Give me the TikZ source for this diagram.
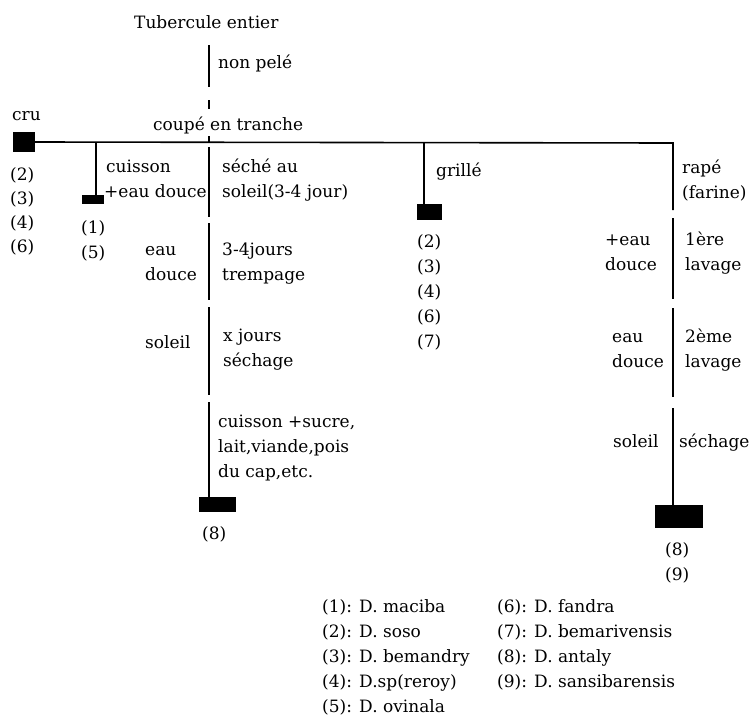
\documentclass[tikz,border=0pt]{standalone}
\usepackage{fontspec}
\setmainfont{DejaVu Serif}
% a left-aligned stack of lines whose baseline is the first line's
\newcommand\mylines[1]{\begin{tabular}[t]{@{}l@{}}#1\end{tabular}}
\begin{document}
\begin{tikzpicture}[x=1pt,y=-1pt,
  lbl/.style={anchor=base west, inner sep=0pt, font=\fontsize{17}{25}\selectfont},
  blk/.style={fill=black, draw=none, inner sep=0pt},
  ln/.style={line width=1.6pt}]
\useasboundingbox (0,0) rectangle (751,715);

% ---------- end products (black boxes) ----------
\node[blk, minimum width=22pt, minimum height=20pt] (cru)   at (24,142)   {};
\node[blk, minimum width=22pt, minimum height=9pt]  (cuis)  at (93,199.5) {};
\node[blk, minimum width=25pt, minimum height=16pt] (grill) at (429.5,212) {};
\node[blk, minimum width=37pt, minimum height=15pt] (dry)   at (217.5,504.5) {};
\node[blk, minimum width=48pt, minimum height=23pt] (flour) at (679,516.5) {};

% ---------- junction points ----------
\coordinate (top)  at (209,45);
\coordinate (t1)   at (209,87);
\coordinate (d1a)  at (209,100);
\coordinate (d1b)  at (209,109);
\coordinate (d2a)  at (209,136);
\coordinate (hub)  at (209,143);
\coordinate (cjn)  at (96,143);
\coordinate (gjn)  at (424,143);
\coordinate (corner) at (673,143);
% main column segments
\coordinate (m1a) at (209,147); \coordinate (m1b) at (209,217);
\coordinate (m2a) at (209,223); \coordinate (m2b) at (209,300);
\coordinate (m3a) at (209,307); \coordinate (m3b) at (209,395);
\coordinate (m4a) at (209,402);
% right column segments
\coordinate (r1b) at (673,210);
\coordinate (r2a) at (673,218); \coordinate (r2b) at (673,299);
\coordinate (r3a) at (673,308); \coordinate (r3b) at (673,397);
\coordinate (r4a) at (673,408);

% ---------- connectors ----------
\draw[ln] (top) -- (t1);
\draw[ln] (d1a) -- (d1b);
\draw[ln] (d2a) -- (hub);
\draw[ln] (cru.east) -- (corner) -- (r1b);
\draw[ln] (cjn) -- (cuis.north -| cjn);
\draw[ln] (gjn) -- (grill.north -| gjn);
\draw[ln] (m1a) -- (m1b);
\draw[ln] (m2a) -- (m2b);
\draw[ln] (m3a) -- (m3b);
\draw[ln] (m4a) -- (dry.north -| m4a);
\draw[ln] (r2a) -- (r2b);
\draw[ln] (r3a) -- (r3b);
\draw[ln] (r4a) -- (flour.north -| r4a);

% ---------- labels ----------
\node[lbl] (tub)   at (134,28)  {Tubercule entier};
\node[lbl] (pele)  at (218,68)  {non pelé};
\node[lbl] (coupe) at (153,130) {coupé en tranche};
\node[lbl] (crut)  at (12,120)  {cru};
\node[lbl, font=\fontsize{17}{24}\selectfont] (crul) at (10,180) {\mylines{(2)\\(3)\\(4)\\(6)}};

\node[lbl] (cuist) at (104,172) {\mylines{\hspace{2pt}cuisson\\+eau douce}};
\node[lbl] (cuisl) at (81,233)  {\mylines{(1)\\(5)}};

\node[lbl] (seche) at (222,172) {\mylines{séché au\\soleil(3-4 jour)}};
\node[lbl] (eau1)  at (145,255) {\mylines{eau\\douce}};
\node[lbl] (tremp) at (222,255) {\mylines{3-4jours\\trempage}};
\node[lbl] (sol1)  at (145,348) {soleil};
\node[lbl] (xj)    at (223,341) {\mylines{x jours\\séchage}};
\node[lbl] (cuis2) at (218,427) {\mylines{cuisson +sucre,\\lait,viande,pois\\du cap,etc.}};
\node[lbl] (dryl)  at (202,539) {(8)};

\node[lbl] (grt)   at (436,176) {grillé};
\node[lbl] (grl)   at (417,247) {\mylines{(2)\\(3)\\(4)\\(6)\\(7)}};

\node[lbl] (rape)  at (682,173) {\mylines{rapé\\(farine)}};
\node[lbl] (eau2)  at (605,245) {\mylines{+eau\\douce}};
\node[lbl] (lav1)  at (685,245) {\mylines{1ère\\lavage}};
\node[lbl] (eau3)  at (612,342) {\mylines{eau\\douce}};
\node[lbl] (lav2)  at (685,342) {\mylines{2ème\\lavage}};
\node[lbl] (sol2)  at (613,447) {soleil};
\node[lbl] (sech2) at (679,447) {séchage};
\node[lbl] (flol)  at (665,555) {\mylines{(8)\\(9)}};

% ---------- species key ----------
\node[lbl] (key1) at (322,612) {\mylines{(1): D. maciba\\(2): D. soso\\(3): D. bemandry\\(4): D.sp(reroy)\\(5): D. ovinala}};
\node[lbl] (key2) at (497,612) {\mylines{(6): D. fandra\\(7): D. bemarivensis\\(8): D. antaly\\(9): D. sansibarensis}};
\end{tikzpicture}
\end{document}
